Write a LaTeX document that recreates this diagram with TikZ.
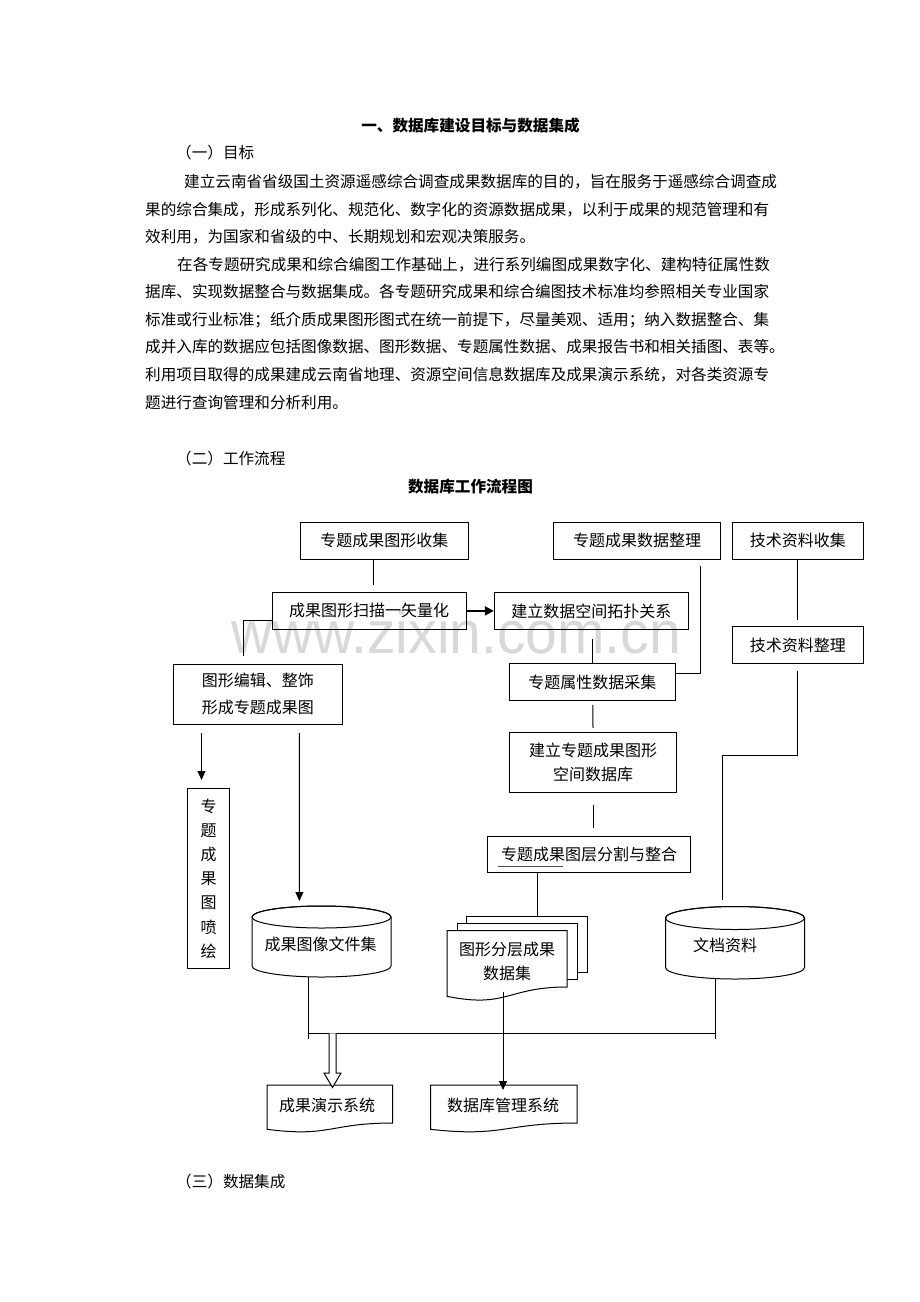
\documentclass[tikz,border=0pt]{standalone}
\usepackage{graphicx}
\usepackage{fontspec}
\setmainfont{Noto Sans CJK SC}
\newfontfamily\wmfont{Liberation Sans}
\usetikzlibrary{arrows.meta,calc}
\definecolor{wmgray}{RGB}{216,216,216}
\newcommand\dfont{\fontsize{16}{24}\selectfont}
\newcommand\pfont{\fontsize{15.6}{20}\selectfont}
\XeTeXlinebreaklocale "zh"
\XeTeXlinebreakskip=0pt plus 1pt minus 0.6pt
\tikzset{
  box/.style={draw, line width=1pt, inner sep=0pt, font=\dfont, align=center},
  dtext/.style={inner sep=0pt, font=\dfont, align=center},
  conn/.style={line width=1pt},
  arr/.style={conn, -{Triangle[length=9pt,width=8pt]}},
  ptxt/.style={anchor=west, inner sep=0pt, font=\pfont},
  shapeline/.style={draw, line width=1pt, fill=white},
}
\begin{document}
\begin{tikzpicture}[x=1pt,y=-1pt]
\useasboundingbox (0,0) rectangle (920,1302);
\fill[white] (0,0) rectangle (920,1302);

% watermark
\node[anchor=base west, inner sep=0pt, text=wmgray, font=\wmfont\fontsize{60}{60}\selectfont] (wm) at (231,653) {\scalebox{0.95}[1]{www.zixin.com.cn}};

% body text
\node[inner sep=0pt, font=\pfont\bfseries] (title) at (470.5,126) {一、数据库建设目标与数据集成};
\node[ptxt] (h1) at (176,153) {（一）目标};
\node[ptxt] (p1a) at (184,182) {\makebox[586pt][s]{建立云南省省级国土资源遥感综合调查成果数据库的目的，旨在服务于遥感综合调查成}};
\node[ptxt] (p1b) at (145,210) {\makebox[625pt][s]{果的综合集成，形成系列化、规范化、数字化的资源数据成果，以利于成果的规范管理和有}};
\node[ptxt] (p1c) at (145,237) {效利用，为国家和省级的中、长期规划和宏观决策服务。};
\node[ptxt] (p2a) at (177,265) {\makebox[593pt][s]{在各专题研究成果和综合编图工作基础上，进行系列编图成果数字化、建构特征属性数}};
\node[ptxt] (p2b) at (145,292) {\makebox[625pt][s]{据库、实现数据整合与数据集成。各专题研究成果和综合编图技术标准均参照相关专业国家}};
\node[ptxt] (p2c) at (145,320) {\makebox[625pt][s]{标准或行业标准；纸介质成果图形图式在统一前提下，尽量美观、适用；纳入数据整合、集}};
\node[ptxt] (p2d) at (145,347) {\makebox[630pt][s]{成并入库的数据应包括图像数据、图形数据、专题属性数据、成果报告书和相关插图、表等。}};
\node[ptxt] (p2e) at (145,375) {\makebox[625pt][s]{利用项目取得的成果建成云南省地理、资源空间信息数据库及成果演示系统，对各类资源专}};
\node[ptxt] (p2f) at (145,403) {题进行查询管理和分析利用。};
\node[ptxt] (h2) at (176,459) {（二）工作流程};
\node[inner sep=0pt, font=\pfont\bfseries] (dtitle) at (470.5,487) {数据库工作流程图};
\node[ptxt] (h3) at (176,1181.5) {（三）数据集成};

% boxes
\node[box, minimum width=167.5pt, minimum height=36.5pt] (A) at (384.3,540.8) {专题成果图形收集};
\node[box, minimum width=167pt, minimum height=36.5pt] (B) at (637,540.8) {专题成果数据整理};
\node[box, minimum width=131.5pt, minimum height=36.5pt] (C) at (797.8,540.8) {技术资料收集};
\node[box, minimum width=194pt, minimum height=36.5pt] (D) at (369,610.9) {成果图形扫描一矢量化};
\node[box, minimum width=194.2pt, minimum height=36.5pt] (E) at (591.4,610.9) {建立数据空间拓扑关系};
\node[box, minimum width=131.5pt, minimum height=36.6pt] (F) at (797.8,645) {技术资料整理};
\node[box, minimum width=168.5pt, minimum height=60.3pt, font=\fontsize{16}{27}\selectfont] (G) at (257.8,694.2) {图形编辑、整饰\\形成专题成果图};
\node[box, minimum width=166.2pt, minimum height=36.5pt] (H) at (592.4,682.2) {专题属性数据采集};
\node[box, minimum width=167.5pt, minimum height=60pt, font=\fontsize{16}{23.3}\selectfont] (I) at (593,762.3) {建立专题成果图形\\空间数据库};
\node[box, minimum width=203pt, minimum height=36.2pt] (J) at (589,854.6) {专题成果图层分割与整合};
\node[box, minimum width=41.5pt, minimum height=180.6pt, font=\fontsize{16}{24.2}\selectfont] (K) at (208.5,878.5) {专\\题\\成\\果\\图\\喷\\绘};
\draw[line width=0.6pt, black!70] ($(J.west)+(11,11.5)$) -- ++(65,0);

% cylinder L
\draw[shapeline] (252,917) -- (252,966) arc[start angle=180, end angle=0, x radius=69.5, y radius=11] -- (391,917) arc[start angle=0, end angle=-180, x radius=69.5, y radius=11];
\draw[line width=1pt] (321.5,917) ellipse [x radius=69.5, y radius=11];
\node[dtext] (L) at (320.5,944) {成果图像文件集};
% cylinder N
\draw[shapeline] (665.5,918) -- (665.5,967.5) arc[start angle=180, end angle=0, x radius=69.5, y radius=11.5] -- (804.5,918) arc[start angle=0, end angle=-180, x radius=69.5, y radius=11.5];
\draw[line width=1pt] (735,918) ellipse [x radius=69.5, y radius=11.5];
\node[dtext] (N) at (725,945) {文档资料};

% multi document M
\draw[shapeline] (466,916.5) rectangle (587,972);
\draw[shapeline] (457,923) rectangle (577,979);
\draw[shapeline] (447,930.5) -- (567,930.5) -- (567,987) .. controls (507,987) and (507,1008.5) .. (447,996.3) -- cycle;
\node[dtext, font=\fontsize{16}{24}\selectfont] (M) at (507,961) {图形分层成果\\数据集};

% documents O and P
\draw[shapeline] (267,1085) -- (392.7,1085) -- (392.7,1123) .. controls (329.9,1123) and (329.9,1137.5) .. (267,1129.3) -- cycle;
\node[dtext] (O) at (327,1105) {成果演示系统};
\draw[shapeline] (430.5,1085) -- (577,1085) -- (577,1123) .. controls (503.8,1123) and (503.8,1137.5) .. (430.5,1129.3) -- cycle;
\node[dtext] (P) at (503,1105) {数据库管理系统};

% named free ends
\coordinate (Ltop) at (299.4,901);
\coordinate (Lbot) at (308.6,976.8);
\coordinate (Ntop) at (722,899.5);
\coordinate (Nbot) at (715,978.5);
\coordinate (Mtop) at (537.5,916.5);
\coordinate (Mbot) at (503,991.5);
\coordinate (Ptop) at (503,1090);
\coordinate (busL) at (308.6,1033.3);
\coordinate (busR) at (715,1033.3);
\coordinate (hollow) at (332.5,1033.3);

% connectors
\draw[conn] ($(A.south)+(-10.6,0)$) -- ++(0,25);
\draw[conn, line width=2pt, -{Triangle[length=9pt,width=9pt]}] (D.east) -- (E.west);
\draw[conn] ($(D.west)+(0,9.5)$) -| ($(G.north)+(-14.5,-7.3)$);
\draw[conn] (H.north) -- ++(0,-24);
\draw[conn] ($(B.south east)+(-21,6)$) |- ($(H.east)+(0,-9)$);
\draw[conn] (C.south) -- ($(F.north)+(0,-6.7)$);
\draw[conn] ($(F.south)+(0,7)$) |- ($(Ntop)+(0,-144.5)$) -- (Ntop);
\draw[conn] ($(H.south)+(0.5,4)$) -- ($(I.north)+(0,-4)$);
\draw[conn] ($(I.south)+(0,11.7)$) -- ++(0,23.7);
\draw[conn] ($(J.south)+(-51.5,0)$) -- (Mtop);
\draw[arr] ($(G.south)+(-56.3,8.3)$) -- ($(K.north)+(-7,-7.7)$);
\draw[arr] ($(G.south)+(41.6,8.3)$) -- (Ltop);
\draw[conn] (Lbot) -- ($(busL)+(0,6)$);
\draw[conn] (Nbot) -- ($(busR)+(0,6)$);
\draw[conn] (busL) -- (busR);
\draw[arr] (Mbot) -- (Ptop);
\draw[shapeline] ($(hollow)+(-3.5,0)$) -- ++(0,39.7) -- ++(-5,0) -- ($(hollow)+(0,54.2)$) -- ($(hollow)+(8.5,39.7)$) -- ++(-5,0) -- ($(hollow)+(3.5,0)$);
\end{tikzpicture}
\end{document}
